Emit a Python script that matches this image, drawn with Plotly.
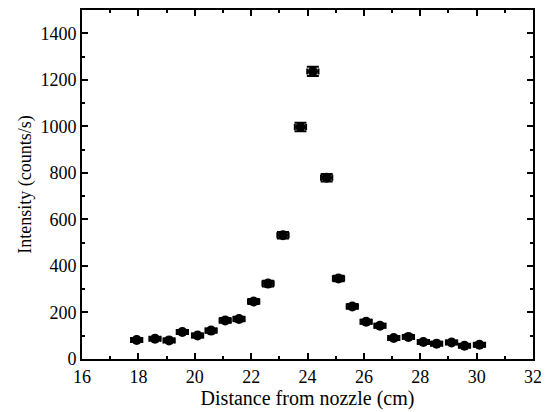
import plotly.graph_objects as go

distance_cm = [17.94, 18.59, 19.09, 19.56, 20.10, 20.58, 21.08, 21.57, 22.09, 22.60,
               23.13, 23.75, 24.19, 24.68, 25.10, 25.59, 26.08, 26.57, 27.06, 27.58,
               28.11, 28.58, 29.11, 29.57, 30.10]
intensity = [82, 87, 80, 116, 101, 122, 166, 172, 247, 324,
             532, 997, 1236, 779, 346, 226, 160, 143, 90, 95,
             73, 66, 71, 57, 61]
intensity_err = [8, 8, 8, 9, 9, 9, 10, 10, 11, 12,
                 14, 18, 20, 16, 12, 10, 9, 9, 8, 8,
                 8, 8, 8, 8, 8]
distance_err = [0.2] * len(distance_cm)

x_ticks = [16, 18, 20, 22, 24, 26, 28, 30, 32]
y_ticks = [0, 200, 400, 600, 800, 1000, 1200, 1400]

font_family = "Liberation Serif"

fig = go.Figure()
fig.add_trace(go.Scatter(
    x=distance_cm, y=intensity, mode="markers",
    marker=dict(symbol="circle", size=10, color="black"),
    error_y=dict(type="data", array=intensity_err, visible=True,
                 color="black", thickness=2, width=6),
    error_x=dict(type="data", array=distance_err, visible=True,
                 color="black", thickness=2, width=3),
    showlegend=False,
))

axis_common = dict(
    showgrid=False, zeroline=False, showline=True, linecolor="black", linewidth=2,
    mirror="ticks", ticks="inside", ticklen=6, tickwidth=1.5, tickcolor="black",
    tickfont=dict(family=font_family, size=18, color="black"),
    automargin=False,
)

fig.update_xaxes(
    range=[16, 32], tickvals=x_ticks, ticktext=[str(v) for v in x_ticks],
    minor=dict(dtick=1, ticks="inside", ticklen=3, tickwidth=1.5, tickcolor="black"),
    title=dict(text="Distance from nozzle (cm)",
               font=dict(family=font_family, size=20, color="black"), standoff=3),
    **axis_common,
)
fig.update_yaxes(
    range=[0, 1500], tickvals=y_ticks, ticktext=[str(v) for v in y_ticks],
    minor=dict(dtick=100, ticks="inside", ticklen=3, tickwidth=1.5, tickcolor="black"),
    title=dict(text="Intensity (counts/s)",
               font=dict(family=font_family, size=18, color="black"), standoff=4),
    **axis_common,
)

# page body adds an 8px offset, so the figure is sized to fit the window
fig.update_layout(
    width=541, height=404,
    margin=dict(l=74, r=16, t=2, b=53),
    paper_bgcolor="white", plot_bgcolor="white",
    font=dict(family=font_family, color="black"),
)

fig.write_html("out.html")
